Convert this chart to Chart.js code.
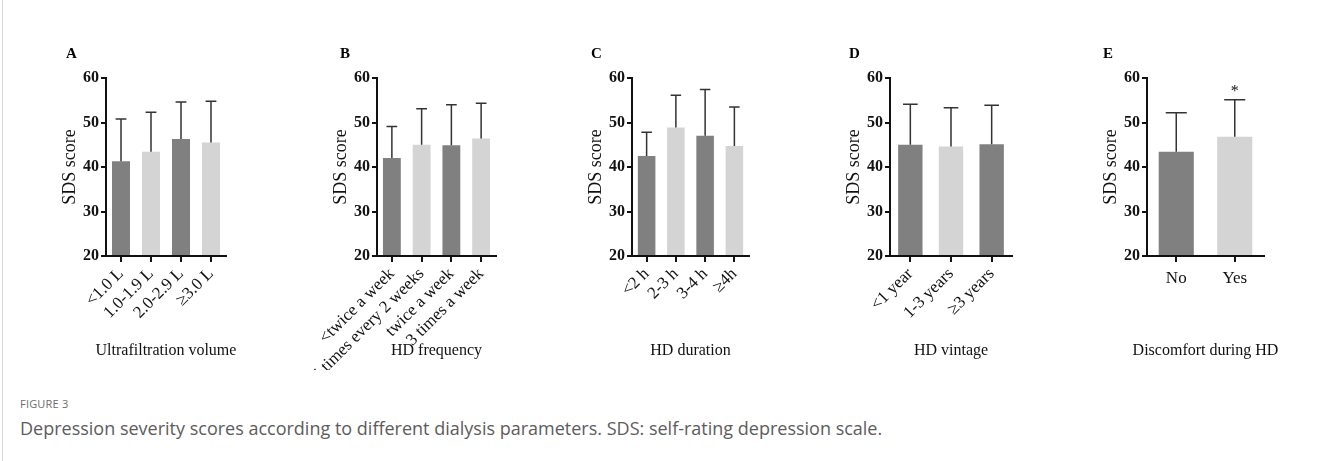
<!DOCTYPE html>
<html>
<head>
<meta charset="utf-8">
<script src="https://cdn.jsdelivr.net/npm/chart.js@4.4.1/dist/chart.umd.min.js"></script>
<style>
  html, body { margin: 0; padding: 0; background: #fff; }
  body { width: 1319px; height: 461px; position: relative; overflow: hidden; }
  .frame { position: absolute; left: 2px; top: 0; height: 461px; border-left: 1px solid #d6d6d6; }
  .panel { position: absolute; top: 40px; }
  .letter { position: absolute; top: 46px; font: bold 15px 'Liberation Serif', serif; line-height: 15px; color: #000; }
  .subtitle { position: absolute; top: 342px; width: 240px; text-align: center; font: 16px 'Liberation Serif', serif; line-height: 16px; color: #111; white-space: nowrap; }
  .fig-label { position: absolute; left: 20px; top: 396px; font: 11px 'Open Sans', sans-serif; color: #6b6b6b; letter-spacing: 0.2px; }
  .caption { position: absolute; left: 20px; top: 416px; font: 18px 'Open Sans', sans-serif; color: #5c5c5c; white-space: nowrap; }
</style>
</head>
<body>
<div class="frame"></div>
<div id="panels"></div>
<div class="fig-label">FIGURE 3</div>
<div class="caption">Depression severity scores according to different dialysis parameters. SDS: self-rating depression scale.</div>

<script>
// Values (mean bar height and SD whisker)
const panelLetters = ['A', 'B', 'C', 'D', 'E'];
const panelTitles = ['Ultrafiltration volume', 'HD frequency', 'HD duration', 'HD vintage', 'Discomfort during HD'];

const labelsA = ['<1.0 L', '1.0-1.9 L', '2.0-2.9 L', '≥3.0 L'];
const meansA = [41.3, 43.4, 46.3, 45.5];
const sdA = [9.5, 8.9, 8.3, 9.3];

const labelsB = ['<twice a week', '5 times every 2 weeks', 'twice a week', '3 times a week'];
const meansB = [42.0, 45.0, 44.9, 46.4];
const sdB = [7.1, 8.1, 9.1, 7.9];

const labelsC = ['<2 h', '2-3 h', '3-4 h', '≥4h'];
const meansC = [42.5, 48.9, 47.0, 44.7];
const sdC = [5.3, 7.2, 10.4, 8.8];

const labelsD = ['<1 year', '1-3 years', '≥3 years'];
const meansD = [45.0, 44.6, 45.1];
const sdD = [9.1, 8.7, 8.8];

const labelsE = ['No', 'Yes'];
const meansE = [43.4, 46.8];
const sdE = [8.8, 8.3];
const marksE = ['', '*'];

const yTicks = [20, 30, 40, 50, 60];

// Layout: plot area left/right edge of each panel (px)
const plotEdges = [[106, 226], [377, 496], [632, 749], [890, 1012], [1147, 1264]];
const letterX = [66, 340, 591, 849, 1103];

const barDark = '#808080';
const barLight = '#d4d4d4';
const ink = '#111';
const serif = "'Liberation Serif', 'Times New Roman', serif";

const Y_AXIS_W = 47;
const LEFT_PAD = 110;
const CANVAS_H = 330;
const X_AXIS_H = 114;

const errorBars = {
    id: 'errorBars',
    afterDatasetsDraw(chart, args, opts) {
        const { ctx } = chart;
        const y = chart.scales.y;
        const ds = chart.data.datasets[0];
        const meta = chart.getDatasetMeta(0);
        ctx.save();
        ctx.strokeStyle = opts.color;
        ctx.lineWidth = opts.width;
        meta.data.forEach((bar, i) => {
            const topPx = y.getPixelForValue(ds.data[i] + ds.sd[i]);
            const half = bar.width * opts.capRatio / 2;
            ctx.beginPath();
            ctx.moveTo(bar.x, bar.y);
            ctx.lineTo(bar.x, topPx);
            ctx.moveTo(bar.x - half, topPx);
            ctx.lineTo(bar.x + half, topPx);
            ctx.stroke();
            const mark = ds.marks && ds.marks[i];
            if (mark) {
                ctx.fillStyle = ink;
                ctx.font = '16px ' + serif;
                ctx.textAlign = 'center';
                ctx.textBaseline = 'alphabetic';
                ctx.fillText(mark, bar.x, topPx - 4);
            }
        });
        ctx.restore();
    }
};

function renderPanel(idx, labels, means, sds, marks, rotation) {
    const [left, right] = plotEdges[idx];
    const host = document.getElementById('panels');
    const canvas = document.createElement('canvas');
    canvas.width = LEFT_PAD + Y_AXIS_W + (right - left) + 8;
    canvas.height = CANVAS_H;
    canvas.className = 'panel';
    canvas.style.left = (left - Y_AXIS_W - LEFT_PAD) + 'px';
    host.appendChild(canvas);

    const letter = document.createElement('div');
    letter.className = 'letter';
    letter.style.left = letterX[idx] + 'px';
    letter.textContent = panelLetters[idx];
    host.appendChild(letter);

    // group title under the axis, centred on the plot, allowed to be wider than it
    const sub = document.createElement('div');
    sub.className = 'subtitle';
    sub.style.left = ((left + right) / 2 - 120) + 'px';
    sub.textContent = panelTitles[idx];
    host.appendChild(sub);

    new Chart(canvas, {
        type: 'bar',
        data: {
            labels,
            datasets: [{
                data: means,
                sd: sds,
                marks,
                base: yTicks[0],
                backgroundColor: labels.map((_, i) => i % 2 ? barLight : barDark),
                borderWidth: 0,
                barPercentage: 0.6,
                categoryPercentage: 1
            }]
        },
        options: {
            responsive: false,
            animation: false,
            layout: { padding: { left: LEFT_PAD, right: 8, top: 38, bottom: 0 } },
            plugins: {
                legend: { display: false },
                tooltip: { enabled: false },
                errorBars: { color: '#333', width: 1.5, capRatio: 0.6 }
            },
            scales: {
                x: {
                    grid: { offset: false, drawOnChartArea: false, drawTicks: true, tickLength: 6, color: ink, lineWidth: 2 },
                    border: { display: true, color: ink, width: 2 },
                    ticks: {
                        color: ink,
                        font: { family: serif, size: 17 },
                        minRotation: rotation,
                        maxRotation: rotation,
                        autoSkip: false,
                        padding: rotation ? 2 : 6
                    },
                    afterFit(scale) {
                        scale.height = X_AXIS_H;
                        scale.paddingLeft = 0;
                        scale.paddingRight = 0;
                    }
                },
                y: {
                    min: yTicks[0],
                    max: yTicks[yTicks.length - 1],
                    afterBuildTicks(scale) {
                        scale.ticks = yTicks.map(v => ({ value: v }));
                    },
                    grid: { drawOnChartArea: false, drawTicks: true, tickLength: 5, color: ink, lineWidth: 2 },
                    border: { display: true, color: ink, width: 2 },
                    ticks: { color: ink, font: { family: serif, size: 16, weight: 'bold' }, padding: 2 },
                    title: {
                        display: true,
                        text: 'SDS score',
                        color: ink,
                        font: { family: serif, size: 18 },
                        padding: { top: 0, bottom: 0 }
                    },
                    afterFit(scale) {
                        scale.width = Y_AXIS_W;
                        scale.paddingTop = 0;
                        scale.paddingBottom = 0;
                    }
                }
            }
        },
        plugins: [errorBars]
    });
}

renderPanel(0, labelsA, meansA, sdA, null, 45);
renderPanel(1, labelsB, meansB, sdB, null, 45);
renderPanel(2, labelsC, meansC, sdC, null, 45);
renderPanel(3, labelsD, meansD, sdD, null, 45);
renderPanel(4, labelsE, meansE, sdE, marksE, 0);
</script>
</body>
</html>
